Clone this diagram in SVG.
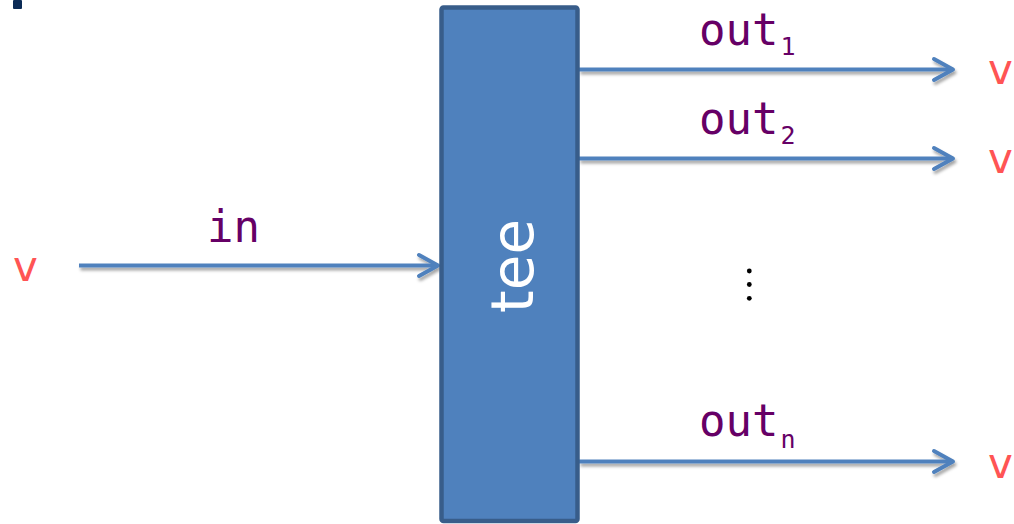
<svg xmlns="http://www.w3.org/2000/svg" width="1014" height="524" viewBox="0 0 1014 524">
  <style>
    .conn { fill: none; stroke: #4f81bd; stroke-width: 4; }
    .lbl { font-family: "DejaVu Sans Mono", "Liberation Mono", monospace; font-size: 44px; fill: #660066; }
    .sub { font-size: 25px; }
    .v { font-family: "DejaVu Sans", "Liberation Sans", sans-serif; font-size: 42px; fill: #ff5454; }
  </style>
  <defs>
    <marker id="arrow" markerUnits="userSpaceOnUse" markerWidth="30" markerHeight="30" viewBox="0 0 30 30" refX="22" refY="15" orient="auto">
      <path d="M3,4.5 L22,15 L3,25.5" fill="none" stroke="#4f81bd" stroke-width="4" stroke-linecap="round" stroke-linejoin="round"/>
    </marker>
    <filter id="shadow" filterUnits="userSpaceOnUse" x="0" y="0" width="1014" height="524">
      <feDropShadow dx="1.5" dy="3" stdDeviation="1.8" flood-color="#000" flood-opacity="0.35"/>
    </filter>
  </defs>
  <rect x="13" y="0" width="9" height="9" rx="1" fill="#0b2b56"/>
  <g id="connectors" filter="url(#shadow)">
    <line class="conn" x1="79" y1="265.5" x2="438" y2="265.5" marker-end="url(#arrow)"/>
    <line class="conn" x1="579" y1="69.5" x2="953" y2="69.5" marker-end="url(#arrow)"/>
    <line class="conn" x1="579" y1="158.5" x2="953" y2="158.5" marker-end="url(#arrow)"/>
    <line class="conn" x1="579" y1="461.5" x2="953" y2="461.5" marker-end="url(#arrow)"/>
  </g>
  <g id="tee">
    <rect x="441.5" y="7.5" width="136" height="513.5" rx="2" fill="#4f81bd" stroke="#385d8a" stroke-width="4.5"/>
    <text transform="translate(533,266) rotate(-90)" text-anchor="middle" font-family="DejaVu Sans, Liberation Sans, sans-serif" font-size="58" fill="#ffffff">tee</text>
  </g>
  <g id="labels">
    <text class="lbl" x="233.5" y="242" text-anchor="middle">in</text>
    <text class="lbl" x="699" y="45">out<tspan class="sub" dx="2" dy="10">1</tspan></text>
    <text class="lbl" x="699" y="134">out<tspan class="sub" dx="2" dy="10">2</tspan></text>
    <text class="lbl" x="699" y="436">out<tspan class="sub" dx="2" dy="12">n</tspan></text>
  </g>
  <g id="values">
    <text class="v" x="988" y="84">v</text>
    <text class="v" x="988" y="173">v</text>
    <text class="v" x="988" y="478">v</text>
    <text class="v" x="13" y="281">v</text>
  </g>
  <g id="ellipsis" fill="#000">
    <circle cx="749.3" cy="271" r="2.4"/>
    <circle cx="749.3" cy="284.5" r="2.4"/>
    <circle cx="749.3" cy="298.3" r="2.4"/>
  </g>
</svg>
